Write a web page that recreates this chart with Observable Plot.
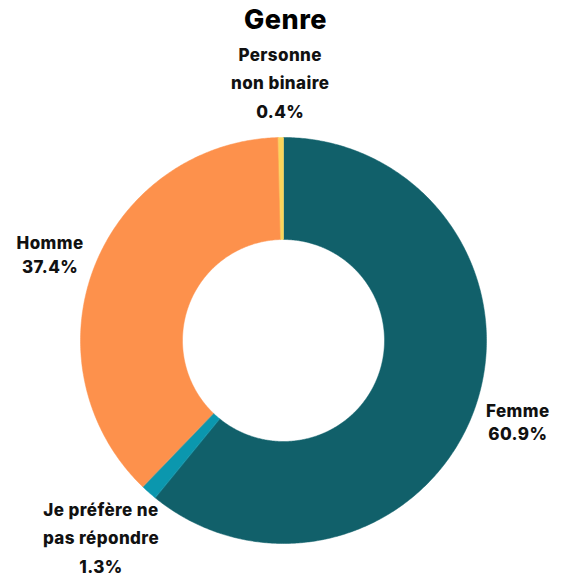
<!DOCTYPE html>
<html>
<head>
<meta charset="utf-8">
<script src="https://cdn.jsdelivr.net/npm/d3@7"></script>
<script src="https://cdn.jsdelivr.net/npm/@observablehq/plot@0.6"></script>
<style>
  body { margin: 0; background: #fff; font-family: Inter, "Open Sans", sans-serif; }
  #title { height: 40px; line-height: 40px; text-align: center; font-size: 27px; font-weight: 800; color: #000; width: 571px; letter-spacing: 0.5px; }
</style>
</head>
<body>
<div id="title">Genre</div>
<div id="chart"></div>
<script>
const title = "Genre";
const categories = ["Femme", "Je préfère ne pas répondre", "Homme", "Personne non binaire"];
const values = [60.9, 1.3, 37.4, 0.4];
const labelLines = [["Femme"], ["Je préfère ne", "pas répondre"], ["Homme"], ["Personne", "non binaire"]];
const colors = ["#11606a", "#0b97ae", "#fd914c", "#fbd55a"];

document.getElementById("title").textContent = title;

const W = 571, H = 548;
const cx = 283, cy = 300;      // pixel position of centre inside the svg
const R = 203, rIn = 101;      // px
const u = R;                   // px per data unit
const inner = rIn / R;

const pie = d3.pie().sort(null).value(d => d.value)(categories.map((c, i) => ({cat: c, value: values[i], i})));

// polygon points per slice
const pts = [];
for (const s of pie) {
  const n = Math.max(4, Math.ceil((s.endAngle - s.startAngle) / (Math.PI / 360)));
  for (let k = 0; k <= n; k++) {
    const a = s.startAngle + (s.endAngle - s.startAngle) * k / n;
    pts.push({cat: s.data.cat, x: Math.sin(a), y: Math.cos(a)});
  }
  for (let k = n; k >= 0; k--) {
    const a = s.startAngle + (s.endAngle - s.startAngle) * k / n;
    pts.push({cat: s.data.cat, x: inner * Math.sin(a), y: inner * Math.cos(a)});
  }
}

// labels
const fs = 17;
const ls = 0.4;
const ctx = document.createElement("canvas").getContext("2d");
ctx.font = `800 ${fs}px Inter`;
const labelMarks = pie.map(s => {
  const lines = [...labelLines[s.data.i], d3.format(".1f")(s.data.value) + "%"];
  const lh = lines.length > 2 ? 1.7 : 1.38;
  const w = d3.max(lines, l => ctx.measureText(l).width + ls * l.length);
  const h = lines.length * lh * fs;
  const a = (s.startAngle + s.endAngle) / 2;
  const ra = R + 14;
  const px = Math.sin(a) * ra + Math.sin(a) * w / 2;
  const pyDown = -Math.cos(a) * ra - Math.cos(a) * h / 2;
  return Plot.text([{x: px / u, y: -pyDown / u, t: lines.join("\n")}], {
    x: "x", y: "y", text: "t",
    textAnchor: "middle", lineAnchor: "middle", lineHeight: lh,
    fontSize: fs, fontWeight: 800, fill: "#111",
    style: `letter-spacing: ${ls}px`
  });
});

const chart = Plot.plot({
  width: W, height: H,
  margin: 0,
  x: {domain: [-cx / u, (W - cx) / u], axis: null},
  y: {domain: [-(H - cy) / u, cy / u], axis: null},
  color: {domain: categories, range: colors},
  style: {fontFamily: "Inter, 'Open Sans', sans-serif", background: "#fff", letterSpacing: `${ls}px`},
  marks: [
    Plot.line(pts, {x: "x", y: "y", z: "cat", fill: "cat", stroke: "cat", strokeWidth: 0.5, curve: "linear-closed"}),
    ...labelMarks
  ]
});
document.getElementById("chart").appendChild(chart);
</script>
</body>
</html>
